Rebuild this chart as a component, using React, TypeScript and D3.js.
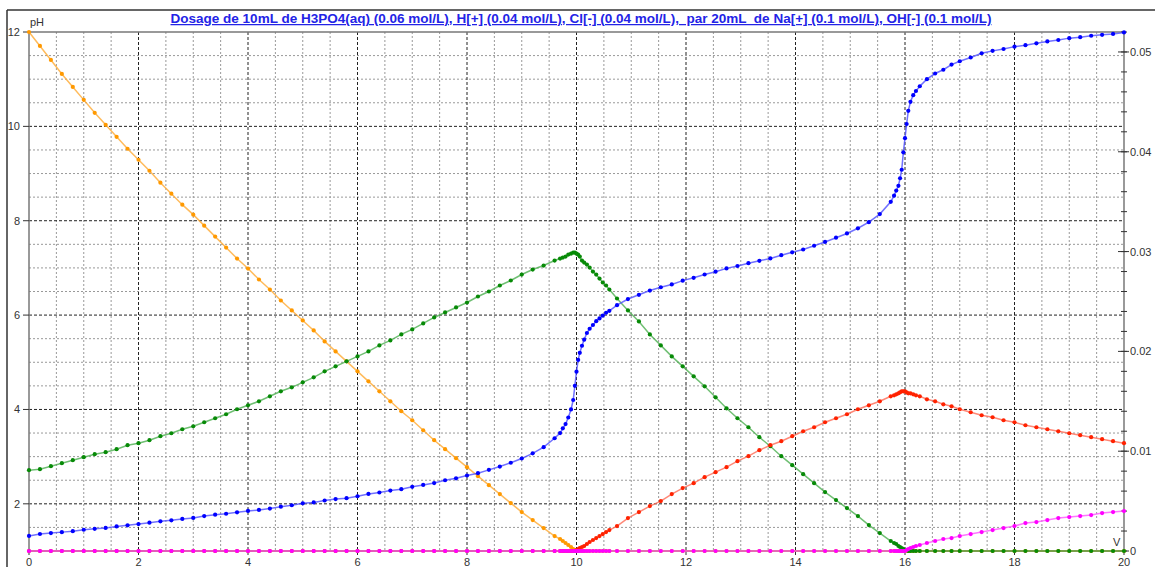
import React from "react";
import * as d3 from "d3";

// sampled volumes of NaOH (mL)
const volumes = [
  0, 0.2, 0.4, 0.6, 0.8, 1, 1.2, 1.4, 1.6, 1.8,
  2, 2.2, 2.4, 2.6, 2.8, 3, 3.2, 3.4, 3.6, 3.8,
  4, 4.2, 4.4, 4.6, 4.8, 5, 5.2, 5.4, 5.6, 5.8,
  6, 6.2, 6.4, 6.6, 6.8, 7, 7.2, 7.4, 7.6, 7.8,
  8, 8.2, 8.4, 8.6, 8.8, 9, 9.2, 9.4, 9.6,
  9.7, 9.75, 9.8, 9.85, 9.9, 9.94, 9.97, 10, 10.03, 10.06,
  10.1, 10.14, 10.19, 10.24, 10.3, 10.36, 10.42, 10.48, 10.54, 10.6,
  10.74, 10.94, 11.14, 11.34, 11.54, 11.74, 11.94, 12.14, 12.34, 12.54,
  12.74, 12.94, 13.14, 13.34, 13.54, 13.74, 13.94, 14.14, 14.34, 14.54,
  14.74, 14.94, 15.14, 15.34, 15.54, 15.74,
  15.8, 15.84, 15.88, 15.91, 15.94, 15.97, 16, 16.03, 16.06, 16.1, 16.15, 16.2, 16.27,
  16.4, 16.55, 16.7, 16.85, 17, 17.2, 17.4, 17.6, 17.8, 18,
  18.2, 18.4, 18.6, 18.8, 19, 19.2, 19.4, 19.6, 19.8, 20,
];

const pH = [
  1.32, 1.36, 1.38, 1.4, 1.42, 1.45, 1.47, 1.49, 1.52, 1.545,
  1.57, 1.6, 1.63, 1.65, 1.68, 1.7, 1.74, 1.77, 1.79, 1.82,
  1.85, 1.87, 1.9, 1.94, 1.97, 2.01, 2.03, 2.07, 2.1, 2.12,
  2.16, 2.21, 2.24, 2.28, 2.31, 2.36, 2.4, 2.44, 2.5, 2.54,
  2.6, 2.65, 2.72, 2.79, 2.87, 2.96, 3.07, 3.2, 3.39,
  3.5, 3.6, 3.69, 3.83, 4.0, 4.2, 4.5, 4.8, 5.05, 5.2,
  5.35, 5.48, 5.62, 5.71, 5.79, 5.87, 5.93, 5.99, 6.05, 6.09,
  6.21, 6.34, 6.43, 6.52, 6.59, 6.65, 6.73, 6.79, 6.86, 6.92,
  6.99, 7.04, 7.1, 7.15, 7.2, 7.27, 7.33, 7.39, 7.47, 7.55,
  7.64, 7.73, 7.84, 7.97, 8.14, 8.4,
  8.53, 8.64, 8.74, 8.9, 9.08, 9.45, 9.75, 10.05, 10.33, 10.52, 10.66, 10.75, 10.85,
  11.0, 11.12, 11.2, 11.31, 11.38, 11.46, 11.55, 11.6, 11.64, 11.69,
  11.72, 11.76, 11.8, 11.83, 11.87, 11.89, 11.92, 11.94, 11.96, 11.99,
];

// concentrations (mol/L), right axis
const h3po4 = [
  0.052, 0.0506, 0.0492, 0.0478, 0.0465, 0.0452, 0.0439, 0.0427, 0.0415, 0.0403,
  0.0392, 0.0381, 0.0369, 0.0358, 0.0347, 0.0337, 0.0326, 0.0315, 0.0304, 0.0293,
  0.0283, 0.0272, 0.0262, 0.0251, 0.0241, 0.0231, 0.0221, 0.021, 0.02, 0.019,
  0.018, 0.017, 0.016, 0.015, 0.014, 0.0131, 0.0121, 0.0111, 0.0102, 0.0093,
  0.0084, 0.0075, 0.0066, 0.0057, 0.0048, 0.0039, 0.0031, 0.0023, 0.0015,
  0.0012, 0.001, 0.0008, 0.0006, 0.0004, 0.0002, 0.0001, 0, 0, 0,
  0, 0, 0, 0, 0, 0, 0, 0, 0, 0,
  0, 0, 0, 0, 0, 0, 0, 0, 0, 0,
  0, 0, 0, 0, 0, 0, 0, 0, 0, 0,
  0, 0, 0, 0, 0, 0,
  0, 0, 0, 0, 0, 0, 0, 0, 0, 0, 0, 0, 0,
  0, 0, 0, 0, 0, 0, 0, 0, 0, 0,
  0, 0, 0, 0, 0, 0, 0, 0, 0, 0,
];

const h2po4 = [
  0.0081, 0.0082, 0.0085, 0.0088, 0.0091, 0.0094, 0.0097, 0.0099, 0.0102, 0.0106,
  0.0108, 0.0111, 0.0115, 0.0118, 0.0122, 0.0125, 0.0129, 0.0133, 0.0137, 0.0142,
  0.0146, 0.015, 0.0155, 0.016, 0.0164, 0.0169, 0.0174, 0.018, 0.0185, 0.019,
  0.0195, 0.02, 0.0206, 0.0211, 0.0217, 0.0222, 0.0228, 0.0234, 0.0239, 0.0244,
  0.0249, 0.0255, 0.026, 0.0266, 0.0271, 0.0277, 0.0282, 0.0286, 0.0291,
  0.0293, 0.0294, 0.0295, 0.0297, 0.0298, 0.0299, 0.0299, 0.0298, 0.0297, 0.0295,
  0.0291, 0.0289, 0.0287, 0.0284, 0.028, 0.0277, 0.0273, 0.0269, 0.0266, 0.0262,
  0.0253, 0.0241, 0.023, 0.0217, 0.0206, 0.0195, 0.0185, 0.0175, 0.0165, 0.0154,
  0.0143, 0.0133, 0.0124, 0.0114, 0.0105, 0.0095, 0.0086, 0.0077, 0.0068, 0.0059,
  0.0051, 0.0043, 0.0035, 0.0026, 0.0018, 0.001,
  0.0008, 0.0007, 0.0005, 0.0004, 0.0003, 0.0002, 0.0001, 0.0001, 0, 0, 0, 0, 0,
  0, 0, 0, 0, 0, 0, 0, 0, 0, 0,
  0, 0, 0, 0, 0, 0, 0, 0, 0, 0,
];

const hpo4 = [
  0, 0, 0, 0, 0, 0, 0, 0, 0, 0,
  0, 0, 0, 0, 0, 0, 0, 0, 0, 0,
  0, 0, 0, 0, 0, 0, 0, 0, 0, 0,
  0, 0, 0, 0, 0, 0, 0, 0, 0, 0,
  0, 0, 0, 0, 0, 0, 0, 0, 0,
  0, 0, 0, 0, 0, 0, 0, 0.0001, 0.0002, 0.0003,
  0.0004, 0.0005, 0.0007, 0.0009, 0.0011, 0.0013, 0.0015, 0.0017, 0.0019, 0.0021,
  0.0025, 0.0033, 0.0039, 0.0045, 0.005, 0.0057, 0.0063, 0.0068, 0.0074, 0.0079,
  0.0084, 0.009, 0.0095, 0.0101, 0.0106, 0.011, 0.0115, 0.012, 0.0124, 0.0129,
  0.0133, 0.0137, 0.0142, 0.0146, 0.015, 0.0155,
  0.0156, 0.0157, 0.0158, 0.0159, 0.016, 0.016, 0.016, 0.0159, 0.0158, 0.0158, 0.0157, 0.0156, 0.0155,
  0.0152, 0.015, 0.0147, 0.0145, 0.0142, 0.0139, 0.0136, 0.0134, 0.0131, 0.0129,
  0.0126, 0.0124, 0.0122, 0.012, 0.0118, 0.0116, 0.0114, 0.0112, 0.011, 0.0108,
];

const po4 = [
  0, 0, 0, 0, 0, 0, 0, 0, 0, 0,
  0, 0, 0, 0, 0, 0, 0, 0, 0, 0,
  0, 0, 0, 0, 0, 0, 0, 0, 0, 0,
  0, 0, 0, 0, 0, 0, 0, 0, 0, 0,
  0, 0, 0, 0, 0, 0, 0, 0, 0,
  0, 0, 0, 0, 0, 0, 0, 0, 0, 0,
  0, 0, 0, 0, 0, 0, 0, 0, 0, 0,
  0, 0, 0, 0, 0, 0, 0, 0, 0, 0,
  0, 0, 0, 0, 0, 0, 0, 0, 0, 0,
  0, 0, 0, 0, 0, 0,
  0, 0, 0, 0, 0, 0, 0, 0.0001, 0.0002, 0.0003, 0.0004, 0.0005, 0.0006,
  0.0008, 0.001, 0.0012, 0.0013, 0.0015, 0.0017, 0.0019, 0.0021, 0.0023, 0.0025,
  0.0028, 0.0029, 0.0031, 0.0033, 0.0034, 0.0035, 0.0036, 0.0038, 0.0039, 0.004,
];

const title =
  "Dosage de 10mL de H3PO4(aq) (0.06 mol/L), H[+] (0.04 mol/L), Cl[-] (0.04 mol/L),  par 20mL  de Na[+] (0.1 mol/L), OH[-] (0.1 mol/L)";

const xTicks = [0, 2, 4, 6, 8, 10, 12, 14, 16, 18, 20];
const pHTicks = [2, 4, 6, 8, 10, 12];
const cTicks = [0, 0.01, 0.02, 0.03, 0.04, 0.05];

const font = "'Liberation Sans', Arial, sans-serif";

export default function App() {
  const x = d3.scaleLinear().domain([0, 20]).range([29, 1124]);
  const yPH = d3.scaleLinear().domain([1, 12]).range([551, 32]);
  const yC = d3.scaleLinear().domain([0, 0.052]).range([551, 32]);

  const series = [
    { values: h3po4, y: yC, dot: "#ff9900", line: "#ffaa33" },
    { values: h2po4, y: yC, dot: "#078a07", line: "#4caf50" },
    { values: hpo4, y: yC, dot: "#ff2200", line: "#ff6a55" },
    { values: po4, y: yC, dot: "#ff00ff", line: "#ff55ff" },
    { values: pH, y: yPH, dot: "#0000ff", line: "#4d4dff" },
  ];

  const vMinor = d3.range(0.5, 20, 0.5).filter((v) => v % 2 !== 0);
  const hMinor = d3.range(1.5, 12, 0.5).filter((v) => v % 2 !== 0);
  const cMinor = d3.range(0, 0.0521, 0.002);

  return (
    <svg
      width={1155}
      height={567}
      style={{ position: "absolute", left: 0, top: 0, background: "#fff" }}
      fontFamily={font}
    >
      {/* window frame */}
      <line x1={7} y1={10} x2={1155} y2={10} stroke="#333" strokeWidth={1.5} />
      <line x1={7} y1={10} x2={7} y2={567} stroke="#333" strokeWidth={1.5} />

      {/* grid */}
      {vMinor.map((v) => (
        <line key={"vm" + v} x1={x(v)} x2={x(v)} y1={32} y2={551} stroke="#999" strokeDasharray="2,2" />
      ))}
      {hMinor.map((v) => (
        <line key={"hm" + v} x1={29} x2={1124} y1={yPH(v)} y2={yPH(v)} stroke="#999" strokeDasharray="2,2" />
      ))}
      {xTicks.slice(1, -1).map((v) => (
        <line key={"vM" + v} x1={x(v)} x2={x(v)} y1={32} y2={551} stroke="#222" strokeDasharray="3,2" />
      ))}
      {pHTicks.slice(0, -1).map((v) => (
        <line key={"hM" + v} x1={29} x2={1124} y1={yPH(v)} y2={yPH(v)} stroke="#222" strokeDasharray="3,2" />
      ))}

      {/* axes */}
      <line x1={29} x2={1124} y1={32} y2={32} stroke="#777" strokeWidth={1.5} />
      <line x1={29} x2={29} y1={32} y2={551} stroke="#777" strokeWidth={1.5} />
      <line x1={1124} x2={1124} y1={32} y2={551} stroke="#777" strokeWidth={1.5} />
      <line x1={29} x2={1124} y1={551} y2={551} stroke="#222" strokeWidth={1.5} />

      {pHTicks.map((v) => (
        <g key={"pt" + v}>
          <line x1={23} x2={29} y1={yPH(v)} y2={yPH(v)} stroke="#333" />
          <text x={20} y={yPH(v) + 4} fontSize={11} textAnchor="end" fill="#333">
            {v}
          </text>
        </g>
      ))}
      {cMinor.map((v) => (
        <line key={"cm" + v} x1={1121} x2={1127} y1={yC(v)} y2={yC(v)} stroke="#333" />
      ))}
      {cTicks.map((v) => (
        <g key={"ct" + v}>
          <line x1={1118} x2={1129} y1={yC(v)} y2={yC(v)} stroke="#333" />
          <text x={1130} y={yC(v) + 4} fontSize={11} fill="#333">
            {v === 0 ? "0" : d3.format(".2f")(v)}
          </text>
        </g>
      ))}
      {xTicks.map((v) => (
        <g key={"xt" + v}>
          <line x1={x(v)} x2={x(v)} y1={551} y2={555} stroke="#333" />
          <text x={x(v)} y={566} fontSize={11} textAnchor="middle" fill="#333">
            {v}
          </text>
        </g>
      ))}
      <text x={30} y={26} fontSize={11} fill="#333">pH</text>
      <text x={1113} y={546} fontSize={11} fill="#333">V</text>

      {/* series */}
      {series.map((s, i) => {
        const pts = volumes
          .map((v, k) => [v, s.values[k]] as [number, number])
          .filter((d) => d[1] != null);
        const line = d3
          .line<[number, number]>()
          .x((d) => x(d[0]))
          .y((d) => s.y(d[1]));
        return (
          <g key={"s" + i}>
            <path d={line(pts) || ""} fill="none" stroke={s.line} strokeWidth={1.5} strokeOpacity={0.8} />
            {pts.map((d, k) => (
              <circle key={k} cx={x(d[0])} cy={s.y(d[1])} r={2.1} fill={s.dot} />
            ))}
          </g>
        );
      })}

      {/* title */}
      <text
        x={581}
        y={23}
        fontSize={12.5}
        fontWeight="bold"
        textAnchor="middle"
        fill="#2323e6"
        textDecoration="underline"
        textLength={821}
        lengthAdjust="spacingAndGlyphs"
        style={{ whiteSpace: "pre" }}
      >
        {title}
      </text>
    </svg>
  );
}
